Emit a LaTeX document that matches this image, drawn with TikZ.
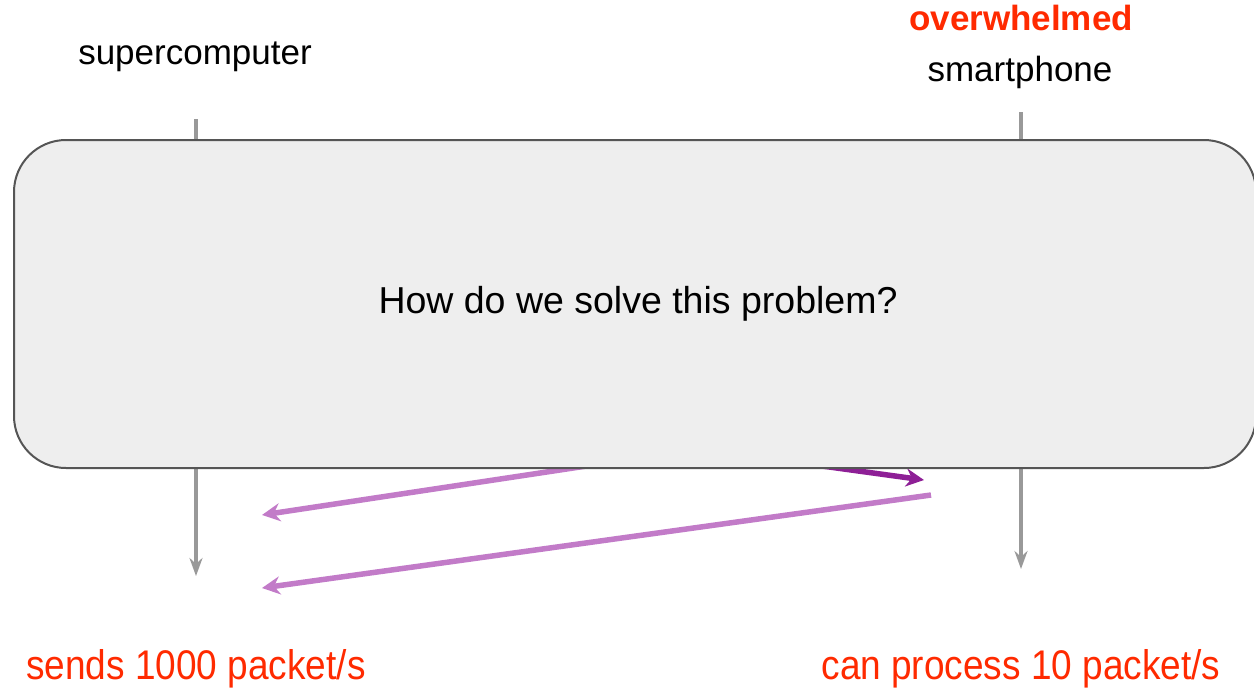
\documentclass[tikz,border=0pt]{standalone}
\usepackage{fontspec}
\setmainfont{Liberation Sans}
\usetikzlibrary{arrows.meta}
\definecolor{boxfill}{HTML}{EEEEEE}
\definecolor{boxline}{HTML}{555555}
\definecolor{lifeline}{HTML}{999999}
\definecolor{redtxt}{HTML}{FF2A00}
\definecolor{darkpurple}{HTML}{8E1F96}
\definecolor{lightpurple}{HTML}{C27BC8}
\tikzset{
  lbl/.style={inner sep=0pt, font=\fontsize{35}{40}\selectfont},
  redlbl/.style={inner sep=0pt, text=redtxt, font=\fontsize{37}{42}\selectfont},
  life/.style={draw=lifeline, line width=4pt, -{Stealth[length=18pt,width=13pt]}},
  msg/.style={line width=5.5pt, -{Stealth[length=18pt,width=18pt]}},
  bigbox/.style={draw=boxline, fill=boxfill, line width=2pt, rounded corners=52pt}
}
\begin{document}
\begin{tikzpicture}[x=1pt,y=-1pt]
\useasboundingbox (0,0) rectangle (1254,689);
% labels
\node[lbl, anchor=base] (sup) at (195,64) {supercomputer};
\node[lbl, text=redtxt, anchor=base, font=\fontsize{35}{40}\selectfont\bfseries] (over) at (1021,30) {overwhelmed};
\node[lbl, anchor=base] (smart) at (1020,81) {smartphone};
% lifelines
\coordinate (l1) at (196,119);
\coordinate (l2) at (196,576);
\coordinate (r1) at (1021,112);
\coordinate (r2) at (1021,569);
\draw[life] (l1) -- (l2);
\draw[life] (r1) -- (r2);
% messages
\coordinate (m0) at (196,380);
\coordinate (m1) at (924,480);
\coordinate (m2) at (924,415);
\coordinate (m3) at (262,515);
\coordinate (m4) at (931,495);
\coordinate (m5) at (262,588);
\draw[msg, draw=darkpurple, darkpurple] (m0) -- (m1);
\draw[msg, draw=lightpurple, lightpurple] (m2) -- (m3);
\draw[msg, draw=lightpurple, lightpurple] (m4) -- (m5);
% box
\node[bigbox, minimum width=1242pt, minimum height=328pt, anchor=north west, inner sep=0pt] (box) at (13,139) {};
\node[inner sep=0pt, font=\fontsize{37.5}{42}\selectfont] (q) at (638,304) {How do we solve this problem?};
% bottom labels
\node[redlbl, anchor=base] (sends) at (196,679) {\scalebox{1}[1.12]{sends 1000 packet/s}};
\node[redlbl, anchor=base] (proc) at (1021,679) {\scalebox{1}[1.12]{can process 10 packet/s}};
\end{tikzpicture}
\end{document}
